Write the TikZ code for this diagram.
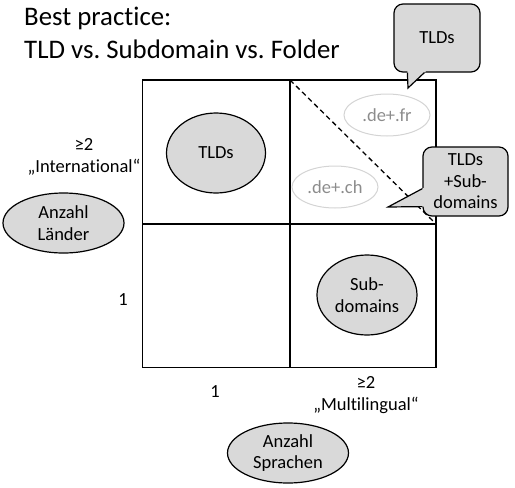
\documentclass[tikz,border=0pt]{standalone}
\usepackage{fontspec}
\setmainfont{Carlito}[Ligatures=NoCommon]
\usepackage{tikz}
\usetikzlibrary{positioning,shapes.geometric,calc}
\definecolor{bpink}{HTML}{000000}
\definecolor{bpfill}{HTML}{D9D9D9}
\definecolor{bpghost}{HTML}{D4D4D4}
\definecolor{bpghosttext}{HTML}{8C8C8C}
\frenchspacing

\begin{document}
\begin{tikzpicture}[
  x=1pt, y=-1pt,
  font=\fontsize{18.5}{21.5}\selectfont,
  bubble/.style={ellipse, draw=bpink, line width=1.2pt, fill=bpfill, align=center,
    inner sep=0pt},
  ghost/.style={ellipse, draw=bpghost, line width=1pt, text=bpghosttext,
    minimum width=86pt, minimum height=42pt, inner sep=0pt},
  speech/.style={draw=bpink, line width=1.2pt, fill=bpfill, rounded corners=9pt,
    align=center, inner sep=0pt},
  axislabel/.style={align=center, inner sep=0pt},
  frameline/.style={draw=bpink, line width=1.5pt},
  titletext/.style={anchor=base west, inner sep=0pt, font=\fontsize{26.8}{33}\selectfont},
  ]
  \useasboundingbox (0,0) rectangle (515,488);

  % Title, two lines.
  \node[titletext] (title) at (24,25) {Best practice:};
  \node[titletext] (subtitle) at ($(title.base west)+(0,33)$) {TLD vs. Subdomain vs. Folder};

  % The 2x2 matrix.
  \coordinate (gnw) at (142.5,80);
  \coordinate (gse) at (436,367.5);
  \coordinate (gmid) at (290,224);
  \draw[frameline] (gnw) rectangle (gse);
  \draw[frameline] (gmid |- gnw) -- (gmid |- gse);
  \draw[frameline] (gnw |- gmid) -- (gse |- gmid);
  \draw[bpink, line width=1.3pt, dash pattern=on 5pt off 3.5pt] (gmid |- gnw) -- (gse |- gmid);

  % Quadrant contents.
  \node[bubble, minimum width=99pt, minimum height=80pt] (tlds) at (216,153) {TLDs};
  \node[bubble, minimum width=100pt, minimum height=80pt] (subs) at (367,295) {Sub-\\domains};
  \node[ghost] (defr) at (387,115) {.de+.fr};
  \node[ghost] (dech) at (335,187) {.de+.ch};

  % Axis labels.
  \node[axislabel] (intl) at (84,157) {≥2\\„International“};
  \node[axislabel] (onerow) at (123,300) {1};
  \node[axislabel] (onecol) at (215,392) {1};
  \node[axislabel] (multi) at (366,395) {≥2\\„Multilingual“};
  \node[bubble, minimum width=121pt, minimum height=60pt] (laender) at (63.5,223) {Anzahl\\Länder};
  \node[bubble, minimum width=121pt, minimum height=60pt] (sprachen) at (288,453) {Anzahl\\Sprachen};

  % Speech bubbles; the pointer is laid over the box border.
  \node[speech, minimum width=86pt, minimum height=68pt] (tldcall) at (437,38) {TLDs};
  \coordinate (tldtip) at (408,88);
  \fill[bpfill] ($(tldcall.south west)+(14,-1.5)$) -- (tldtip)
    -- ($(tldcall.south west)+(32.6,-1.5)$) -- cycle;
  \draw[bpink, line width=1.2pt] ($(tldcall.south west)+(14,0)$) -- (tldtip)
    -- ($(tldcall.south west)+(31,0)$);

  \node[speech, minimum width=85pt, minimum height=69pt] (mixcall) at (465.5,181.5)
    {TLDs\\+Sub-\\domains};
  \coordinate (mixtip) at (388,207);
  \fill[bpfill] ($(mixcall.south west)+(1.5,-28.8)$) -- (mixtip)
    -- ($(mixcall.south west)+(1.5,-10)$) -- cycle;
  \draw[bpink, line width=1.2pt] ($(mixcall.south west)+(0,-28)$) -- (mixtip)
    -- ($(mixcall.south west)+(0,-10)$);
\end{tikzpicture}
\end{document}
